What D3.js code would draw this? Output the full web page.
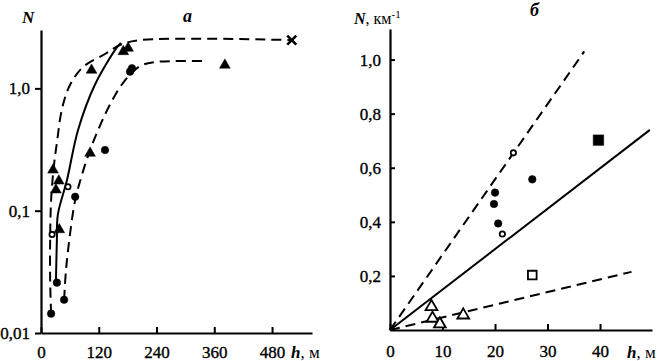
<!DOCTYPE html>
<html>
<head>
<meta charset="utf-8">
<script src="https://cdn.jsdelivr.net/npm/d3@7"></script>
<style>
  body { margin: 0; background: #fff; }
  text { font-family: "Liberation Serif", "DejaVu Serif", serif; fill: #000; }
  .tick text { font-size: 17px; stroke: #000; stroke-width: 0.35px; }
</style>
</head>
<body>
<div id="chart"></div>
<script>
// ---- panel a (log scale) ----
var aTicksX = [0, 120, 240, 360, 480];
var aTicksY = [0.01, 0.1, 1];
var aTickLabelsY = ["0,01", "0,1", "1,0"];

var aCurveLeft = [[21, 0.0144], [19, 0.027], [19, 0.058], [21, 0.122], [27, 0.237], [33, 0.358],
  [44, 0.69], [60, 1.06], [87, 1.49], [133, 1.91], [164, 2.26], [206, 2.48], [521, 2.48]];
var aCurveSolid = [[31, 0.0258], [33, 0.058], [35, 0.093], [54, 0.178], [77, 0.457],
  [112, 1.07], [158, 2.17], [166, 2.35]];
var aCurveRight = [[48, 0.0187], [52, 0.033], [60, 0.063], [71, 0.122], [85, 0.196], [102, 0.313],
  [123, 0.5], [148, 0.8], [175, 1.17], [206, 1.52], [237, 1.64], [341, 1.67]];

var aDots = [[21, 0.0144], [33, 0.0258], [48, 0.0187], [71, 0.13], [133, 0.313], [185, 1.37], [189, 1.46]];
var aTriangles = [[25, 0.215], [37, 0.175], [31, 0.148], [38, 0.07], [102, 0.295], [105, 1.41],
  [171, 2.0], [181, 2.13], [382, 1.55]];
var aRings = [[23, 0.064], [56, 0.157]];
var aCross = [[521, 2.48]];

// ---- panel б (linear) ----
var bTicksX = [0, 10, 20, 30, 40];
var bTicksY = [0.2, 0.4, 0.6, 0.8, 1.0];
var bTickLabelsY = ["0,2", "0,4", "0,6", "0,8", "1,0"];

var bLineUpper = [[0, 0], [37, 1.03]];
var bLineSolid = [[0, 0], [49.5, 0.74]];
var bLineLower = [[0, 0], [46, 0.215]];

var bDots = [[20, 0.508], [19.8, 0.466], [20.6, 0.394], [27.1, 0.557]];
var bRings = [[23.5, 0.655], [21.4, 0.355]];
var bSquares = [[39.7, 0.702]];
var bOpenSquares = [[27.1, 0.203]];
var bOpenTriangles = [[7.9, 0.086], [8.1, 0.043], [9.5, 0.022], [13.95, 0.055]];

var svg = d3.select("#chart").append("svg")
  .attr("width", 660)
  .attr("height", 361);

// scales
var ax = d3.scaleLinear().domain([0, 563]).range([41, 312]);
var ay = d3.scaleLog().domain([0.01, 3.0]).range([333, 30]);
var bx = d3.scaleLinear().domain([0, 49.9]).range([390, 652]);
var by = d3.scaleLinear().domain([0, 1.113]).range([330, 29]);

var serif = "Liberation Serif, DejaVu Serif, serif";

function styleAxis(g) {
  g.attr("font-family", serif);
  g.select(".domain").attr("stroke-width", 2.2);
  g.selectAll(".tick line").attr("stroke-width", 2);
}

// panel a axes
svg.append("g")
  .attr("transform", "translate(0,333)")
  .call(d3.axisBottom(ax).tickValues(aTicksX).tickSizeInner(-6).tickSizeOuter(0).tickPadding(10))
  .call(styleAxis)
  .selectAll(".tick text").attr("dy", "0.9em");

svg.append("g")
  .attr("transform", "translate(41,0)")
  .call(d3.axisLeft(ay).tickValues(aTicksY).tickFormat(function(d, i) { return aTickLabelsY[i]; })
    .tickSizeInner(6).tickSizeOuter(0).tickPadding(5))
  .call(styleAxis);

// panel б axes
svg.append("g")
  .attr("transform", "translate(0,330)")
  .call(d3.axisBottom(bx).tickValues(bTicksX).tickSizeInner(-6).tickSizeOuter(0).tickPadding(12))
  .call(styleAxis)
  .selectAll(".tick text").attr("dy", "0.9em");

svg.append("g")
  .attr("transform", "translate(390,0)")
  .call(d3.axisLeft(by).tickValues(bTicksY).tickFormat(function(d, i) { return bTickLabelsY[i]; })
    .tickSizeInner(-5).tickSizeOuter(0).tickPadding(9))
  .call(styleAxis);

// curves
var aLine = d3.line()
  .x(function(d) { return ax(d[0]); })
  .y(function(d) { return ay(d[1]); })
  .curve(d3.curveCatmullRom.alpha(0.5));

var bLine = d3.line()
  .x(function(d) { return bx(d[0]); })
  .y(function(d) { return by(d[1]); });

function drawPath(data, gen, dashed) {
  svg.append("path")
    .datum(data)
    .attr("d", gen)
    .attr("fill", "none")
    .attr("stroke", "#000")
    .attr("stroke-width", 2)
    .attr("stroke-dasharray", dashed ? "10,6" : null);
}

drawPath(aCurveLeft, aLine, true);
drawPath(aCurveSolid, aLine, false);
drawPath(aCurveRight, aLine, true);

drawPath(bLineUpper, bLine, true);
drawPath(bLineSolid, bLine, false);
drawPath(bLineLower, bLine, true);

// markers
function drawSymbols(data, xs, ys, type, size, filled, sw) {
  svg.append("g").selectAll("path")
    .data(data)
    .enter().append("path")
    .attr("transform", function(d) { return "translate(" + xs(d[0]) + "," + ys(d[1]) + ")"; })
    .attr("d", d3.symbol().type(type).size(size))
    .attr("fill", filled ? "#000" : "#fff")
    .attr("stroke", "#000")
    .attr("stroke-width", sw);
}

drawSymbols(aDots, ax, ay, d3.symbolCircle, 45, true, 0.5);
drawSymbols(aTriangles, ax, ay, d3.symbolTriangle, 50, true, 0.5);
drawSymbols(aRings, ax, ay, d3.symbolCircle, 22, false, 1.8);
drawSymbols(aCross, ax, ay, d3.symbolX, 55, true, 2.6);

drawSymbols(bDots, bx, by, d3.symbolCircle, 45, true, 0.5);
drawSymbols(bRings, bx, by, d3.symbolCircle, 22, false, 1.8);
drawSymbols(bSquares, bx, by, d3.symbolSquare, 110, true, 0.5);
drawSymbols(bOpenSquares, bx, by, d3.symbolSquare, 75, false, 1.8);
drawSymbols(bOpenTriangles, bx, by, d3.symbolTriangle, 60, false, 1.8);

// axis titles
svg.append("text").attr("x", 22).attr("y", 23)
  .style("font-size", "17px").style("font-style", "italic").style("font-weight", "bold").text("N");
svg.append("text").attr("x", 183).attr("y", 22)
  .style("font-size", "18px").style("font-style", "italic").style("font-weight", "bold").text("а");
svg.append("text").attr("x", 291).attr("y", 358)
  .style("font-size", "17px").html('<tspan font-style="italic" font-weight="bold">h</tspan>, м');

var nb = svg.append("text").attr("x", 354).attr("y", 24).style("font-size", "16px");
nb.append("tspan").style("font-style", "italic").style("font-weight", "bold").text("N");
nb.append("tspan").text(", км");
nb.append("tspan").attr("dy", -6).style("font-size", "11px").text("-1");

svg.append("text").attr("x", 530).attr("y", 16)
  .style("font-size", "18px").style("font-style", "italic").style("font-weight", "bold").text("б");
svg.append("text").attr("x", 627).attr("y", 358)
  .style("font-size", "17px").html('<tspan font-style="italic" font-weight="bold">h</tspan>, м');
</script>
</body>
</html>
